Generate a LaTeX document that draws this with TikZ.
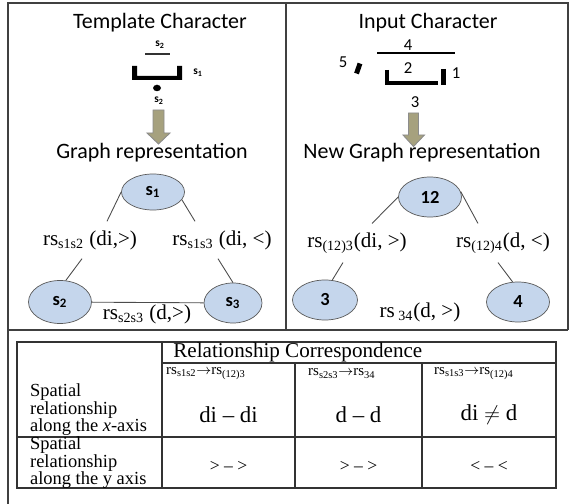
\documentclass[tikz,border=0pt]{standalone}
\usepackage{fontspec}
\setmainfont{Liberation Serif}
\newfontfamily\calibri{Carlito}
\usepackage{tikz}
\usetikzlibrary{shapes.geometric, positioning}
\definecolor{nodeblue}{RGB}{197,214,236}
\definecolor{arrowtan}{RGB}{166,161,126}

\begin{document}
\begin{tikzpicture}[
    every node/.style={inner sep=1pt},
    title/.style={font=\calibri\fontsize{12.5}{14}\selectfont},
    glyphlbl/.style={font=\calibri\fontsize{9.5}{11}\selectfont},
    tinylbl/.style={font=\calibri\bfseries\fontsize{6.5}{7}\selectfont},
    vertex/.style={ellipse, draw=black!65, fill=nodeblue, minimum width=1.26cm, minimum height=0.8cm, inner sep=0pt, font=\calibri\bfseries\fontsize{10.5}{12}\selectfont},
    rel/.style={font=\fontsize{12}{14}\selectfont, inner xsep=1pt, inner ysep=5pt},
    edge/.style={draw=black!70, line width=0.5pt},
    blockarr/.style={draw=black!45, fill=arrowtan, line width=0.5pt},
    frame/.style={draw=black!75, line width=0.8pt},
    grid/.style={draw=black!80, line width=0.8pt},
    cell/.style={font=\fontsize{13}{15}\selectfont},
    pair/.style={font=\fontsize{8.5}{9}\selectfont, anchor=west, inner sep=0.5pt},
    side/.style={font=\fontsize{10.5}{10}\selectfont, anchor=west, align=left}
]
\useasboundingbox (0,0) rectangle (11.4,-10.08);

% Frame
\draw[frame] (0.16,-10.08) -- (0.16,-0.06) -- (11.36,-0.06) -- (11.36,-6.6);
\draw[frame] (0.16,-6.6) -- (11.36,-6.6);
\draw[frame] (5.72,-0.06) -- (5.72,-6.6);

% Template character
\node[title] (tplt) at (3.2,-0.46) {Template Character};
\node[tinylbl] (ts3) at (3.2,-0.9) {s\textsubscript{2}};
\draw[line width=1.2pt, black!80] (2.9,-1.08) -- (3.4,-1.08);
\fill (2.64,-1.32) -- (2.74,-1.32) -- (2.74,-1.52) -- (3.54,-1.52) -- (3.54,-1.32)
      -- (3.64,-1.32) -- (3.64,-1.6) -- (2.64,-1.6) -- cycle;
\node[tinylbl] (ts1) at (3.96,-1.46) {s\textsubscript{1}};
\fill (3.14,-1.76) ellipse (0.08 and 0.065);
\node[tinylbl] (ts2) at (3.18,-2.02) {s\textsubscript{2}};
\filldraw[blockarr] (3.06,-2.2) -- (3.28,-2.2) -- (3.28,-2.66) -- (3.4,-2.66)
      -- (3.17,-2.88) -- (2.94,-2.66) -- (3.06,-2.66) -- cycle;
\node[title] (tgraph) at (3.04,-3.06) {Graph representation};

% Template graph
\node[vertex, minimum height=0.72cm] (s1) at (3.06,-3.84) {s\textsubscript{1}};
\node[vertex, minimum height=0.86cm] (s2) at (1.2,-6.04) {s\textsubscript{2}};
\node[vertex, minimum width=1.16cm] (s3) at (4.66,-6.06) {s\textsubscript{3}};
\node[rel] (l12) at (1.8,-4.8) {rs\textsubscript{s1s2} (di,>)};
\node[rel] (l13) at (4.44,-4.8) {rs\textsubscript{s1s3} (di, <)};
\node[rel, inner ysep=1pt] (l23) at (2.94,-6.28) {rs\textsubscript{s2s3} (d,>)};
\draw[edge] (s1.west) -- ([xshift=0.34cm]l12.north);
\draw[edge] ([xshift=-0.16cm]l12.south) -- (s2.75);
\draw[edge] (s1.-15) -- ([xshift=-0.54cm]l13.north);
\draw[edge] ([xshift=-0.08cm]l13.south) -- (s3.north);
\draw[edge] (s2) -- (s3);

% Input character
\node[title] (inpt) at (8.56,-0.46) {Input Character};
\node[glyphlbl] (g4) at (8.16,-0.9) {4};
\draw[line width=1.6pt] (7.54,-1.06) -- (9.1,-1.06);
\node[glyphlbl] (g5) at (6.86,-1.24) {5};
\draw[line width=2.8pt] (7.13,-1.47) -- (7.2,-1.27);
\draw[line width=2.2pt] (7.74,-1.4) -- (7.74,-1.66) -- (8.76,-1.66);
\draw[line width=2.8pt] (8.87,-1.38) -- (8.87,-1.7);
\node[glyphlbl] (g2) at (8.16,-1.36) {2};
\node[glyphlbl] (g1) at (9.12,-1.46) {1};
\node[glyphlbl] (g3) at (8.3,-2.04) {3};
\filldraw[blockarr] (8.17,-2.26) -- (8.37,-2.26) -- (8.37,-2.7) -- (8.49,-2.7)
      -- (8.27,-2.93) -- (8.06,-2.7) -- (8.17,-2.7) -- cycle;
\node[title] (ngraph) at (8.44,-3.06) {New Graph representation};

% Input graph
\node[vertex] (n12) at (8.6,-3.94) {12};
\node[vertex, minimum width=1.3cm] (n3) at (6.5,-6.0) {3};
\node[vertex] (n4) at (10.36,-6.04) {4};
\node[rel] (l123) at (7.14,-4.86) {rs\textsubscript{(12)3}(di, >)};
\node[rel] (l124) at (10.06,-4.86) {rs\textsubscript{(12)4}(d, <)};
\node[rel] (l34) at (8.4,-6.24) {rs\,\textsubscript{34}(d, >)};
\draw[edge] (n12.west) -- ([xshift=0.3cm]l123.north);
\draw[edge] ([xshift=-0.28cm]l123.south) -- (n3.70);
\draw[edge] (n12.10) -- ([xshift=-0.5cm]l124.north);
\draw[edge] ([xshift=-0.1cm]l124.south) -- (n4.105);

% Correspondence table
\draw[grid] (0.34,-6.84) rectangle (11.12,-9.76);
\draw[grid] (3.24,-6.84) -- (3.24,-9.76);
\draw[grid] (3.24,-7.26) -- (11.12,-7.26);
\draw[grid] (0.34,-8.74) -- (11.12,-8.74);
\draw[grid] (5.9,-7.26) -- (5.9,-9.76);
\draw[grid] (8.44,-7.26) -- (8.44,-9.76);
\node[cell, anchor=west, inner sep=0pt, font=\fontsize{12}{13}\selectfont] (hdr) at (3.46,-7.05) {Relationship Correspondence};
\node[pair] (p1) at (3.3,-7.47) {rs\textsubscript{s1s2}$\rightarrow$rs\textsubscript{(12)3}};
\node[pair] (p2) at (6.14,-7.47) {rs\textsubscript{s2s3}$\rightarrow$rs\textsubscript{34}};
\node[pair] (p3) at (8.66,-7.47) {rs\textsubscript{s1s3}$\rightarrow$rs\textsubscript{(12)4}};
\node[side] (rowx) at (0.56,-8.2) {Spatial\\relationship\\along the \textit{x}-axis};
\node[side] (rowy) at (0.56,-9.26) {Spatial\\relationship\\along the y axis};
\node[cell] (x1) at (4.57,-8.3) {di -- di};
\node[cell] (x2) at (7.17,-8.3) {d -- d};
\node[cell] (x3) at (9.78,-8.3) {di $\neq$ d};
\node[cell, font=\fontsize{10}{12}\selectfont] (y1) at (4.57,-9.32) {> -- >};
\node[cell, font=\fontsize{10}{12}\selectfont] (y2) at (7.17,-9.32) {> -- >};
\node[cell, font=\fontsize{10}{12}\selectfont] (y3) at (9.78,-9.32) {< -- <};

\end{tikzpicture}
\end{document}
